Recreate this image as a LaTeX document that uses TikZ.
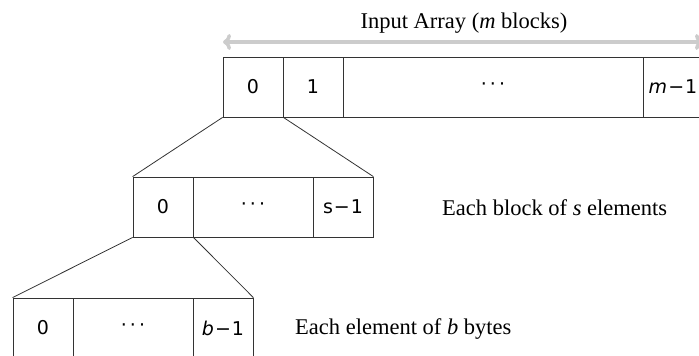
\documentclass[tikz,border=0pt]{standalone}
\usepackage{fontspec}
\setmainfont{Liberation Serif}
\newfontfamily\cellfont{DejaVu Sans}
\usetikzlibrary{arrows.meta}
\definecolor{linegray}{HTML}{333333}
\definecolor{arrowgray}{HTML}{CCCCCC}
\tikzset{
  cellbox/.style={draw=linegray, line width=0.8pt, inner sep=0pt, minimum height=60pt,
    font=\cellfont\fontsize{19}{23}\selectfont},
  narrowcell/.style={cellbox, minimum width=60pt},
  labeltext/.style={inner sep=0pt, font=\fontsize{22.5}{27}\selectfont},
  zoomline/.style={draw=linegray, line width=0.8pt},
  spanarrow/.style={draw=arrowgray, line width=3.5pt, {To[length=8pt,width=16pt]}-{To[length=8pt,width=16pt]}}
}
\newcommand{\cellminus}{\kern1pt−\kern1pt}
\newcommand{\celldots}{·\kern3pt·\kern3pt·}
\begin{document}
\begin{tikzpicture}[x=1pt,y=-1pt]
\useasboundingbox (0,0) rectangle (699,356);
\clip (0,0) rectangle (699,356);
% top row
\node[narrowcell] (t0) at (253,87) {0};
\node[narrowcell] (t1) at (313,87) {1};
\node[cellbox, minimum width=300pt] (td) at (493,87) {\celldots};
\node[narrowcell] (tm) at (673,87) {{\itshape m}\cellminus1};
% middle row
\node[narrowcell] (m0) at (163,207) {0};
\node[cellbox, minimum width=120pt] (md) at (253,207) {\celldots};
\node[narrowcell] (ms) at (343,207) {s\cellminus1};
% bottom row
\node[narrowcell] (b0) at (43,328) {0};
\node[cellbox, minimum width=120pt] (bd) at (133,328) {\celldots};
\node[narrowcell] (bb) at (223,328) {{\itshape b}\cellminus1};
% zoom lines
\draw[zoomline] (t0.south west) -- (m0.north west);
\draw[zoomline] (t0.south east) -- (ms.north east);
\draw[zoomline] (m0.south west) -- (b0.north west);
\draw[zoomline] (m0.south east) -- (bb.north east);
% span arrow
\coordinate (aL) at (223,42);
\coordinate (aR) at (703,42);
\draw[spanarrow] (aL) -- (aR);
\node[labeltext, anchor=base] (title) at (464,28) {Input Array (\textit{m} blocks)};
\node[labeltext, anchor=base west] (blocktext) at (442,215) {Each block of \textit{s} elements};
\node[labeltext, anchor=base west] (elemtext) at (295,334) {Each element of \textit{b} bytes};
\end{tikzpicture}
\end{document}
